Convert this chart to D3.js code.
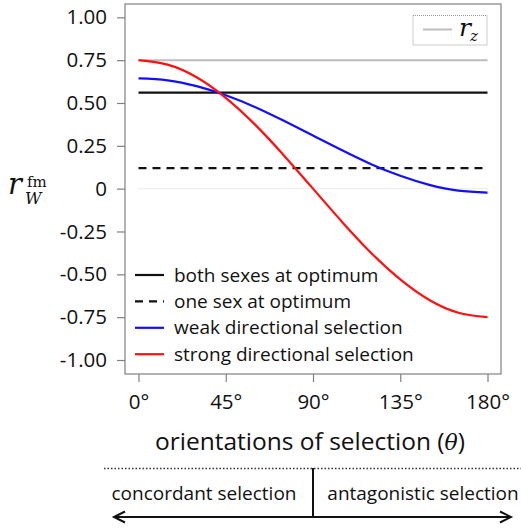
<!DOCTYPE html>
<html>
<head>
<meta charset="utf-8">
<script src="https://cdn.jsdelivr.net/npm/d3@7"></script>
<style>
  body { margin: 0; background: #fff; }
  svg { display: block; font-family: "Open Sans", sans-serif; }
  .math { font-family: "DejaVu Serif", "Liberation Serif", serif; font-style: italic; }
</style>
</head>
<body>
<div id="chart"></div>
<script>
// orientation of selection, degrees
var theta = [0, 15, 30, 45, 60, 75, 90, 105, 120, 135, 150, 165, 180];
// r_W^fm
var weakSel = [0.643, 0.632, 0.598, 0.545, 0.477, 0.396, 0.31, 0.224, 0.143, 0.075, 0.022, -0.012, -0.023];
var strongSel = [0.75, 0.724, 0.65, 0.53, 0.375, 0.194, 0.0, -0.194, -0.375, -0.53, -0.65, -0.724, -0.75];
// flat reference levels
var bothOptimum = 0.56;
var oneOptimum = 0.12;
var rZ = 0.75;

var yTicks = [1, 0.75, 0.5, 0.25, 0, -0.25, -0.5, -0.75, -1];
var xTicks = [0, 45, 90, 135, 180];
var legendLabels = ['both sexes at optimum', 'one sex at optimum', 'weak directional selection', 'strong directional selection'];

var W = 521, H = 529;
var svg = d3.select('#chart').append('svg').attr('width', W).attr('height', H);

var x = d3.scaleLinear().domain([0, 180]).range([138.5, 487.5]);
var y = d3.scaleLinear().domain([-1, 1]).range([360, 17.3]);
var box = {x0: 125, x1: 501, y0: 4, y1: 374};

// zero line, faint dotted
svg.append('line')
  .attr('x1', x(0)).attr('x2', x(180)).attr('y1', y(0)).attr('y2', y(0))
  .attr('stroke', '#d8d8d8').attr('stroke-width', 1).attr('stroke-dasharray', '1,1');

// horizontal levels
svg.append('line')
  .attr('x1', x(0)).attr('x2', x(180)).attr('y1', y(rZ)).attr('y2', y(rZ))
  .attr('stroke', '#bdbdbd').attr('stroke-width', 2);
svg.append('line')
  .attr('x1', x(0)).attr('x2', x(180)).attr('y1', y(bothOptimum)).attr('y2', y(bothOptimum))
  .attr('stroke', '#111').attr('stroke-width', 2.2);
svg.append('line')
  .attr('x1', x(0)).attr('x2', x(180)).attr('y1', y(oneOptimum)).attr('y2', y(oneOptimum))
  .attr('stroke', '#111').attr('stroke-width', 2.2).attr('stroke-dasharray', '8,6');

var line = d3.line()
  .x(function(d, i) { return x(theta[i]); })
  .y(function(d) { return y(d); })
  .curve(d3.curveNatural);

svg.append('path').attr('d', line(weakSel))
  .attr('fill', 'none').attr('stroke', '#1010ff').attr('stroke-width', 2.2);
svg.append('path').attr('d', line(strongSel))
  .attr('fill', 'none').attr('stroke', '#ff1010').attr('stroke-width', 2.2);

// frame
svg.append('rect')
  .attr('x', box.x0).attr('y', box.y0)
  .attr('width', box.x1 - box.x0).attr('height', box.y1 - box.y0)
  .attr('fill', 'none').attr('stroke', '#808080').attr('stroke-width', 1.2);

// axes
var yAxis = d3.axisLeft(y).tickValues(yTicks).tickSize(8).tickPadding(10)
  .tickFormat(function(d) { return d === 0 ? '0' : d3.format('.2f')(d).replace('\u2212', '-'); });
var gy = svg.append('g').attr('transform', 'translate(' + box.x0 + ',0)').call(yAxis);
var xAxis = d3.axisBottom(x).tickValues(xTicks).tickSize(8).tickPadding(12)
  .tickFormat(function(d) { return d + '°'; });
var gx = svg.append('g').attr('transform', 'translate(0,' + box.y1 + ')').call(xAxis);
[gx, gy].forEach(function(g) {
  g.select('.domain').remove();
  g.selectAll('.tick line').attr('stroke', '#808080').attr('stroke-width', 1.2);
  g.selectAll('.tick text').attr('fill', '#111').style('font-size', '20.5px').style('font-family', '"Open Sans", sans-serif');
});

// y title: r, subscript W, superscript fm
svg.append('text').attr('class', 'math').attr('x', 8).attr('y', 194)
  .attr('fill', '#111').style('font-size', '29px').text('r');
svg.append('text').attr('class', 'math').attr('x', 25).attr('y', 204)
  .attr('fill', '#111').style('font-size', '16px').text('W');
svg.append('text').attr('x', 27).attr('y', 187)
  .attr('fill', '#111').style('font-family', '"DejaVu Serif", serif').style('font-size', '15px').text('fm');

// x title
var xt = svg.append('text').attr('x', 310).attr('y', 450).attr('text-anchor', 'middle')
  .attr('fill', '#111').style('font-size', '24.5px')
  .text('orientations of selection (');
xt.append('tspan').attr('class', 'math').style('font-size', '22px').text('θ');
xt.append('tspan').text(')');

// bottom-left legend
var lg = svg.append('g');
var legendStyles = [
  {stroke: '#111', dash: null},
  {stroke: '#111', dash: '8,6'},
  {stroke: '#1010ff', dash: null},
  {stroke: '#ff1010', dash: null}
];
legendLabels.forEach(function(lab, i) {
  var yy = 275 + i * 26.4;
  lg.append('line').attr('x1', 135).attr('x2', 164).attr('y1', yy).attr('y2', yy)
    .attr('stroke', legendStyles[i].stroke).attr('stroke-width', 2.2)
    .attr('stroke-dasharray', legendStyles[i].dash);
  lg.append('text').attr('x', 174).attr('y', yy).attr('dy', '0.35em')
    .attr('fill', '#111').style('font-size', '19px').text(lab);
});

// top-right legend
svg.append('rect').attr('x', 413).attr('y', 15.5).attr('width', 74).attr('height', 29.5)
  .attr('fill', 'none').attr('stroke', '#999').attr('stroke-width', 1).attr('stroke-dasharray', '1,1');
svg.append('line').attr('x1', 423).attr('x2', 452).attr('y1', 29.5).attr('y2', 29.5)
  .attr('stroke', '#bdbdbd').attr('stroke-width', 2);
svg.append('text').attr('class', 'math').attr('x', 459).attr('y', 36)
  .attr('fill', '#111').style('font-size', '25px').text('r');
svg.append('text').attr('class', 'math').attr('x', 470).attr('y', 41)
  .attr('fill', '#111').style('font-size', '15px').text('z');

// bottom annotation
svg.append('line').attr('x1', 104).attr('x2', 521).attr('y1', 468.5).attr('y2', 468.5)
  .attr('stroke', '#333').attr('stroke-width', 1.5).attr('stroke-dasharray', '1.5,2');
svg.append('line').attr('x1', x(90)).attr('x2', x(90)).attr('y1', 468).attr('y2', 517)
  .attr('stroke', '#111').attr('stroke-width', 2);
svg.append('line').attr('x1', 114).attr('x2', 511).attr('y1', 517).attr('y2', 517)
  .attr('stroke', '#111').attr('stroke-width', 2);
svg.append('path').attr('d', 'M125,511.5 L114,517 L125,522.5')
  .attr('fill', 'none').attr('stroke', '#111').attr('stroke-width', 2);
svg.append('path').attr('d', 'M500,511.5 L511,517 L500,522.5')
  .attr('fill', 'none').attr('stroke', '#111').attr('stroke-width', 2);
svg.append('text').attr('x', 204).attr('y', 493).attr('dy', '0.35em').attr('text-anchor', 'middle')
  .attr('fill', '#111').style('font-size', '19px').text('concordant selection');
svg.append('text').attr('x', 423).attr('y', 493).attr('dy', '0.35em').attr('text-anchor', 'middle')
  .attr('fill', '#111').style('font-size', '19px').text('antagonistic selection');
</script>
</body>
</html>
